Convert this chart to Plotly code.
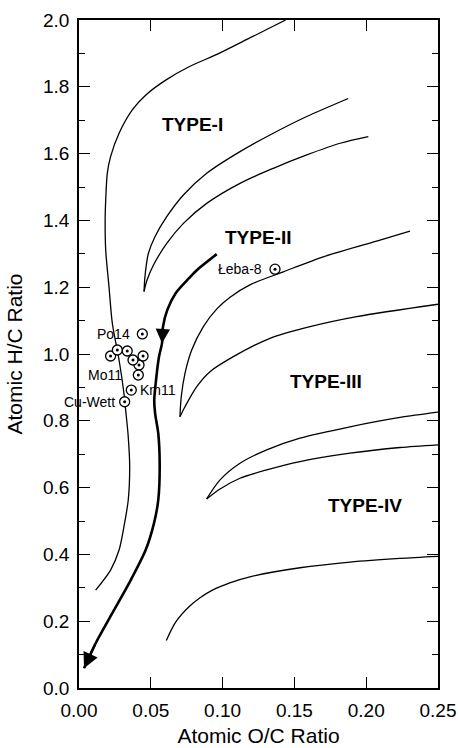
import plotly.graph_objects as go

# Kerogen-type boundary curves on the van Krevelen diagram (O/C vs H/C)
type1_outer_x = [0.0116, 0.0220, 0.0279, 0.0313, 0.0343, 0.0353, 0.0343, 0.0325, 0.0313,
                 0.0279, 0.0232, 0.0209, 0.0186, 0.0182, 0.0186, 0.0197, 0.0220, 0.0279,
                 0.0371, 0.0464, 0.0604, 0.0766, 0.0975, 0.1207, 0.1439]
type1_outer_y = [0.293, 0.353, 0.413, 0.483, 0.563, 0.663, 0.752, 0.832, 0.882,
                 0.982, 1.092, 1.201, 1.311, 1.400, 1.461, 1.541, 1.591, 1.661,
                 1.731, 1.775, 1.820, 1.860, 1.900, 1.950, 2.000]

# Type I / Type II boundary (two branches meeting at a cusp)
type1_2_upper_x = [0.1875, 0.1586, 0.1353, 0.1121, 0.0889, 0.0727, 0.0611, 0.0529, 0.0483,
                   0.0467, 0.0458, 0.0453]
type1_2_upper_y = [1.765, 1.711, 1.661, 1.606, 1.541, 1.476, 1.411, 1.351, 1.301,
                   1.261, 1.225, 1.187]
type1_2_lower_x = [0.0453, 0.0471, 0.0517, 0.0611, 0.0727, 0.0889, 0.1121, 0.1353, 0.1586,
                   0.1818, 0.2015]
type1_2_lower_y = [1.187, 1.218, 1.265, 1.331, 1.391, 1.451, 1.511, 1.556, 1.596,
                   1.631, 1.651]

# Type II / Type III boundary
type2_3_upper_x = [0.2305, 0.2096, 0.1701, 0.1423, 0.1190, 0.1052, 0.0960, 0.0866, 0.0785,
                   0.0738, 0.0712, 0.0703]
type2_3_upper_y = [1.368, 1.341, 1.291, 1.246, 1.207, 1.170, 1.135, 1.082, 1.012,
                   0.942, 0.872, 0.812]
type2_3_lower_x = [0.0703, 0.0738, 0.0820, 0.0912, 0.1075, 0.1330, 0.1609, 0.1934, 0.2500]
type2_3_lower_y = [0.812, 0.842, 0.902, 0.947, 0.992, 1.047, 1.082, 1.112, 1.149]

# Type III / Type IV boundary
type3_4_upper_x = [0.2500, 0.2235, 0.1887, 0.1539, 0.1307, 0.1121, 0.0982, 0.0889]
type3_4_upper_y = [0.826, 0.810, 0.782, 0.748, 0.713, 0.673, 0.623, 0.566]
type3_4_lower_x = [0.0889, 0.0982, 0.1121, 0.1307, 0.1539, 0.1887, 0.2235, 0.2500]
type3_4_lower_y = [0.566, 0.596, 0.628, 0.653, 0.678, 0.703, 0.720, 0.728]

# Lower limit of Type IV
type4_lower_x = [0.0608, 0.0673, 0.0766, 0.0843, 0.0929, 0.1050, 0.1190, 0.1539,
                 0.1887, 0.2235, 0.2500]
type4_lower_y = [0.142, 0.197, 0.243, 0.270, 0.293, 0.315, 0.333, 0.360,
                 0.377, 0.388, 0.394]

# Maturation pathway (thick line with arrows)
path_x = [0.0959, 0.0820, 0.0766, 0.0673, 0.0615, 0.0585, 0.0578, 0.0557, 0.0534, 0.0524,
          0.0530, 0.0552, 0.0562, 0.0552, 0.0522, 0.0464, 0.0348, 0.0232, 0.0116, 0.0035]
path_y = [1.299, 1.251, 1.227, 1.182, 1.132, 1.082, 1.032, 0.992, 0.912, 0.862,
          0.822, 0.762, 0.663, 0.563, 0.493, 0.413, 0.313, 0.224, 0.134, 0.059]

# Samples
sample_oc = [0.0441, 0.0220, 0.0267, 0.0336, 0.0418, 0.0376, 0.0446, 0.0413, 0.0364, 0.0318, 0.1365]
sample_hc = [1.060, 0.994, 1.012, 1.009, 0.967, 0.982, 0.994, 0.937, 0.892, 0.857, 1.254]
sample_names = ["Po14", "", "", "", "", "", "", "Mo11", "Km11", "Cu-Wett", "Łeba-8"]
label_side = ["left", "", "", "", "", "", "", "left", "right", "left", "left"]
label_shift = [-10, 0, 0, 0, 0, 0, 0, -14, 7, -8, -11]

region_names = ["TYPE-I", "TYPE-II", "TYPE-III", "TYPE-IV"]
region_x = [0.0787, 0.1247, 0.172, 0.199]
region_y = [1.686, 1.350, 0.919, 0.545]

x_ticks = [0.00, 0.05, 0.10, 0.15, 0.20, 0.25]
y_ticks = [0.0, 0.2, 0.4, 0.6, 0.8, 1.0, 1.2, 1.4, 1.6, 1.8, 2.0]

FONT = "Liberation Sans, Arial, sans-serif"

fig = go.Figure()

thin = dict(color="black", width=1.3, shape="spline", smoothing=0.8)
for xs, ys in [(type1_outer_x, type1_outer_y),
               (type1_2_upper_x, type1_2_upper_y), (type1_2_lower_x, type1_2_lower_y),
               (type2_3_upper_x, type2_3_upper_y), (type2_3_lower_x, type2_3_lower_y),
               (type3_4_upper_x, type3_4_upper_y), (type3_4_lower_x, type3_4_lower_y),
               (type4_lower_x, type4_lower_y)]:
    fig.add_trace(go.Scatter(x=xs, y=ys, mode="lines", line=thin,
                             hoverinfo="skip", showlegend=False))

fig.add_trace(go.Scatter(x=path_x, y=path_y, mode="lines",
                         line=dict(color="black", width=2.6, shape="spline", smoothing=0.8),
                         hoverinfo="skip", showlegend=False))

# Sample markers: open circle with a centre dot
fig.add_trace(go.Scatter(x=sample_oc, y=sample_hc, mode="markers",
                         marker=dict(symbol="circle", size=10, color="white",
                                     line=dict(color="black", width=1.3)),
                         showlegend=False))
fig.add_trace(go.Scatter(x=sample_oc, y=sample_hc, mode="markers",
                         marker=dict(symbol="circle", size=3, color="black"),
                         showlegend=False))

# Arrow heads along the maturation path
for i_head, i_tail, size in [(6, 5, 1.25), (19, 18, 1.35)]:
    fig.add_annotation(x=path_x[i_head], y=path_y[i_head], ax=path_x[i_tail], ay=path_y[i_tail],
                       xref="x", yref="y", axref="x", ayref="y", text="",
                       showarrow=True, arrowhead=2, arrowsize=size, arrowwidth=2.3,
                       arrowcolor="black", standoff=0)

for name, side, shift, x, y in zip(sample_names, label_side, label_shift, sample_oc, sample_hc):
    if not name:
        continue
    fig.add_annotation(x=x, y=y, text=name, showarrow=False,
                       xanchor="right" if side == "left" else "left", yanchor="middle",
                       xshift=shift, font=dict(family=FONT, size=14, color="black"))

for name, x, y in zip(region_names, region_x, region_y):
    fig.add_annotation(x=x, y=y, text="<b>%s</b>" % name, showarrow=False,
                       font=dict(family=FONT, size=19, color="black"))

axis_common = dict(showgrid=False, zeroline=False, showline=True, linecolor="black", linewidth=1.6,
                   mirror="allticks", ticks="inside", ticklen=11, tickwidth=1.4, tickcolor="black",
                   tickfont=dict(family=FONT, size=19, color="black"))

fig.update_xaxes(range=[0, 0.25], tickvals=x_ticks, tickformat=".2f",
                 title=dict(text="Atomic O/C Ratio", font=dict(family=FONT, size=21, color="black"),
                            standoff=9),
                 ticklabelstandoff=4, **axis_common)
fig.update_yaxes(range=[0, 2.0], tickvals=y_ticks, tickformat=".1f",
                 minor=dict(ticks="inside", ticklen=6, tickwidth=1.4, tickcolor="black", dtick=0.1),
                 title=dict(text="Atomic H/C Ratio", font=dict(family=FONT, size=21, color="black"),
                            standoff=15),
                 ticklabelstandoff=4, **axis_common)

fig.update_layout(width=458, height=748, margin=dict(l=79, r=20, t=20, b=60, autoexpand=False),
                  paper_bgcolor="white", plot_bgcolor="white")

fig.write_html("out.html")
